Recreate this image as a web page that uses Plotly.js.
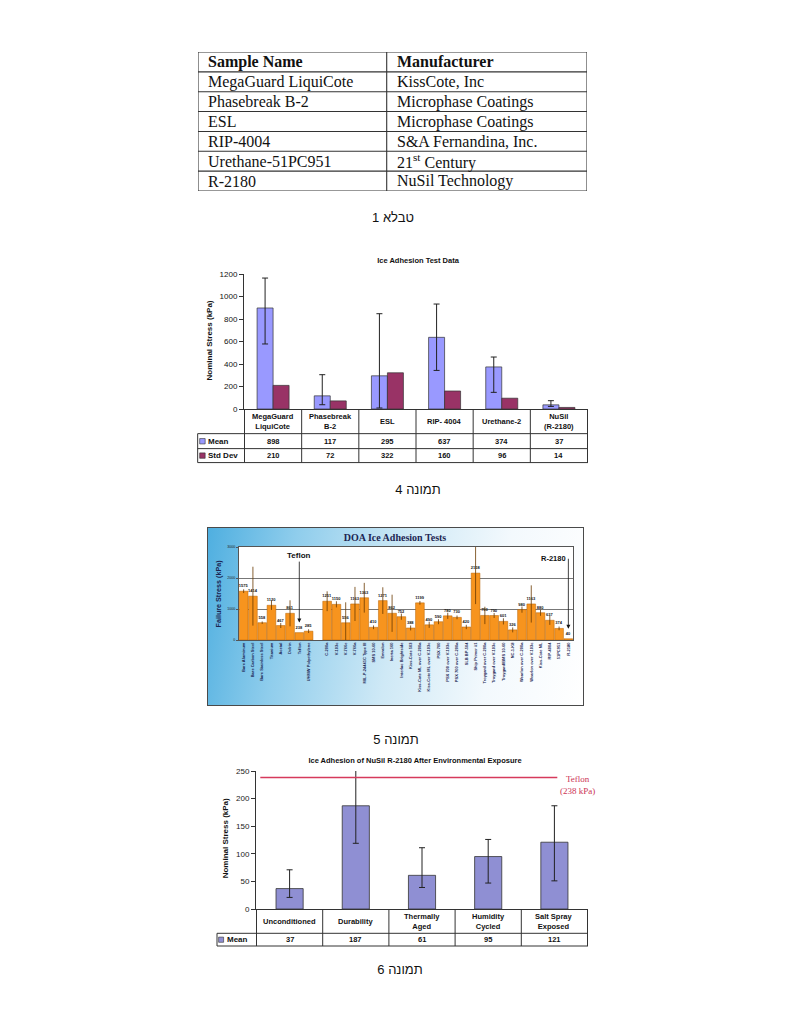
<!DOCTYPE html>
<html><head><meta charset="utf-8">
<script src="https://cdn.plot.ly/plotly-3.0.1.min.js"></script>
<style>
body{margin:0;background:#fff;width:796px;height:1023px;position:relative;overflow:hidden;font-family:"Liberation Sans",Arial,sans-serif}
.abs{position:absolute}
.cap{position:absolute;font-size:13px;line-height:16px;color:#111;transform:translateX(-50%);white-space:nowrap;font-family:"Liberation Sans","DejaVu Sans",Arial,sans-serif}
#doaBg{position:absolute;left:207px;top:527px;width:377px;height:179px;box-sizing:border-box;border:1.5px solid #4a4a4a;
background:linear-gradient(100deg,#4fafe0 0%,#8fcdec 22%,#cfe9f6 50%,#f3f9fd 75%,#ffffff 100%)}
</style></head><body>
<div id="t1" class="abs" style="left:190px;top:45px;width:410px;height:185px"></div>
<div id="c4" class="abs" style="left:190px;top:250px;width:410px;height:255px"></div>
<div class="cap" style="left:418px;top:482px">תמונה 4</div>
<div id="doaBg"></div>
<div id="c5" class="abs" style="left:208px;top:528px;width:375px;height:177px"></div>
<div class="cap" style="left:396px;top:732px">תמונה 5</div>
<div id="c6" class="abs" style="left:210px;top:745px;width:390px;height:240px"></div>
<div class="cap" style="left:400px;top:962px">תמונה 6</div>
<script>
// ---------- DATA ----------
// Table 1
const tableCaption = "טבלא 1";
const tableHeaders = ["Sample Name", "Manufacturer"];
const sampleNames = ["MegaGuard LiquiCote", "Phasebreak B-2", "ESL", "RIP-4004", "Urethane-51PC951", "R-2180"];
const manufacturers = ["KissCote, Inc", "Microphase Coatings", "Microphase Coatings", "S&amp;A Fernandina, Inc.", "21<sup>st</sup> Century", "NuSil Technology"];

// Figure 4
const cats4 = ["MegaGuard LiquiCote", "Phasebreak B-2", "ESL", "RIP-4004", "Urethane-2", "NuSil (R-2180)"];
const cats4Labels = ["MegaGuard<br>LiquiCote", "Phasebreak<br>B-2", "ESL", "RIP- 4004", "Urethane-2", "NuSil<br>(R-2180)"];
const mean4 = [898, 117, 295, 637, 374, 37];
const std4 = [210, 72, 322, 160, 96, 14];
const errPlus4 = [266, 188, 552, 296, 88, 37];
const errMinus4 = [320, 79, 286, 294, 226, 14];
const series4 = ["Mean", "Std Dev"];

// Figure 5
const cats5 = ["Bare Aluminum", "Bare Carbon Steel", "Bare Stainless Steel", "Titanium", "Acetal", "Delrin", "Teflon", "UHMW Polyethylene", "(gap)",
  "C-200a", "V-103c", "V-766e", "V-766a", "MIL-P-24441C Type III", "SMS 10-60", "Emralon", "Inerta 160", "Interlac Brightside",
  "Kiss-Cote 503", "Kiss-Cote ML over C-200a", "Kiss-Cote ML over V-103c", "PSX 700", "PSX 700 over V-103c", "PSX 700 over C-200a",
  "SLB BP-504", "Ship Primer #1", "Troygard over C-200a", "Troygard over V-103c", "Troygard/BMS 10-60", "NC-1-K8",
  "Wearlon over C-200a", "Wearlon over V-103c", "Kiss-Cote ML", "RIP-4004", "51PC951", "R-2180"];
const vals5 = [1575, 1414, 558, 1120, 467, 861, 238, 285, null,
  1251, 1150, 556, 1163, 1363, 410, 1271, 862, 752,
  388, 1199, 490, 590, 780, 730,
  420, 2158, 793, 790, 601, 326,
  980, 1163, 880, 637, 374, 40];
const err5 = [60, 950, 40, 150, 80, 420, 0, 60, null,
  320, 100, 660, 550, 480, 60, 430, 600, 100,
  80, 60, 100, 80, 100, 60,
  70, 1000, 280, 80, 100, 80,
  100, 600, 100, 150, 60, 0];
const refTeflon5 = "Teflon";
const refR2180 = "R-2180";

// Figure 6
const cats6 = ["Unconditioned", "Durability", "Thermally Aged", "Humidity Cycled", "Salt Spray Exposed"];
const cats6Labels = ["Unconditioned", "Durability", "Thermally<br>Aged", "Humidity<br>Cycled", "Salt Spray<br>Exposed"];
const mean6 = [37, 187, 61, 95, 121];
const errPlus6 = [34, 64, 50, 31, 66];
const errMinus6 = [16, 68, 22, 48, 70];
const teflonRef6 = 238;

// ---------- STYLE ----------
const SANS = '"Liberation Sans", Arial, sans-serif';
const SERIF = '"Liberation Serif", "Times New Roman", serif';
const cfg = {staticPlot: true, displayModeBar: false};
const MEAN_C = '#9999FF', STD_C = '#993366', LINE_C = '#333';
const HIDDEN_AXIS = {showline: false, showgrid: false, zeroline: false, showticklabels: false, ticks: ''};

// ---------- TABLE 1 (grid drawn on hidden axes: rows = index, columns = fraction) ----------
(function () {
  const rows = [tableHeaders.map(h => '<b>' + h + '</b>')].concat(sampleNames.map((s, i) => [s, manufacturers[i]]));
  const n = rows.length;
  const W = 389;
  const colX = [0, (386.7 - 198) / W, 1];
  const pad = 8 / W;
  const shapes = [], ann = [];
  for (let r = 0; r <= n; r++) shapes.push({type: 'line', xref: 'x', yref: 'y', x0: 0, x1: 1, y0: r, y1: r, line: {color: '#333', width: 1.1}});
  colX.forEach(c => shapes.push({type: 'line', xref: 'x', yref: 'y', x0: c, x1: c, y0: 0, y1: n, line: {color: '#333', width: 1.1}}));
  rows.forEach((row, r) => row.forEach((txt, c) => ann.push({xref: 'x', yref: 'y', x: colX[c] + pad, y: r + 0.5, text: txt,
    xanchor: 'left', yanchor: 'middle', showarrow: false, font: {family: SERIF, size: 16, color: '#111'}})));
  Plotly.newPlot('t1', [], {
    width: 410, height: 185, margin: {l: 8, r: 13, t: 7.3, b: 39}, showlegend: false,
    paper_bgcolor: 'rgba(0,0,0,0)', plot_bgcolor: 'rgba(0,0,0,0)',
    title: {text: tableCaption, x: (393 - 190) / 410, xanchor: 'center', y: 1 - 172 / 185, yanchor: 'middle',
      font: {family: '"Liberation Sans","DejaVu Sans",Arial,sans-serif', size: 13, color: '#111'}},
    xaxis: Object.assign({range: [0, 1]}, HIDDEN_AXIS), yaxis: Object.assign({range: [n, 0]}, HIDDEN_AXIS),
    shapes: shapes, annotations: ann
  }, cfg);
})();

// ---------- helper for data-table under chart ----------
function dataTable(cats, labels, rows, geom) {
  const shapes = [], ann = [];
  const n = cats.length;
  const bottom = geom.rowBottoms[geom.rowBottoms.length - 1];
  for (let i = 0; i <= n; i++) {
    shapes.push({type: 'line', xref: 'x', yref: 'paper', x0: i - 0.5, x1: i - 0.5, y0: 0, y1: bottom, line: {color: LINE_C, width: 1}});
  }
  shapes.push({type: 'line', xref: 'paper', yref: 'paper', x0: geom.leftX, x1: geom.leftX, y0: geom.rowBottoms[0], y1: bottom, line: {color: LINE_C, width: 1}});
  geom.rowBottoms.forEach(yb => shapes.push({type: 'line', xref: 'paper', yref: 'paper', x0: geom.leftX, x1: 1, y0: yb, y1: yb, line: {color: LINE_C, width: 1}}));
  labels.forEach((t, i) => ann.push({xref: 'x', yref: 'paper', x: cats[i], y: geom.catY, text: '<b>' + t + '</b>', showarrow: false,
    font: {family: SANS, size: geom.fontSize, color: '#111'}, xanchor: 'center', yanchor: 'middle'}));
  rows.forEach((r, k) => {
    r.values.forEach((v, i) => ann.push({xref: 'x', yref: 'paper', x: cats[i], y: geom.rowY[k], text: '<b>' + v + '</b>', showarrow: false,
      font: {family: SANS, size: geom.fontSize, color: '#111'}, xanchor: 'center', yanchor: 'middle'}));
    shapes.push({type: 'rect', xref: 'paper', yref: 'paper', x0: geom.keyX0, x1: geom.keyX1, y0: geom.rowY[k] - geom.keyH, y1: geom.rowY[k] + geom.keyH,
      fillcolor: r.color, line: {color: '#333', width: 0.6}});
    ann.push({xref: 'paper', yref: 'paper', x: geom.keyTextX, y: geom.rowY[k], text: '<b>' + r.name + '</b>', showarrow: false, xanchor: 'left',
      font: {family: SANS, size: geom.fontSize + 0.5, color: '#111'}, yanchor: 'middle'});
  });
  return {shapes, ann};
}

// ---------- FIGURE 4 ----------
(function () {
  const W = 343.7, H = 135.3;
  const px = X => (X - 244.3) / W, py = Y => (409.3 - Y) / H;
  const t = dataTable(cats4, cats4Labels, [
    {name: series4[0], values: mean4, color: MEAN_C},
    {name: series4[1], values: std4, color: STD_C}
  ], {rowBottoms: [py(434), py(449), py(463)], leftX: px(198), catY: py(421.6), rowY: [py(441.6), py(456)],
    keyX0: px(200), keyX1: px(205.5), keyH: 2.7 / H, keyTextX: px(206.5), fontSize: 7.5});
  t.ann.push({xref: 'paper', yref: 'paper', x: px(210), y: 0.505, xanchor: 'center', yanchor: 'middle', text: '<b>Nominal Stress (kPa)</b>',
    textangle: -90, showarrow: false, font: {family: SANS, size: 8, color: '#111'}});
  Plotly.newPlot('c4', [
    {type: 'bar', name: series4[0], x: cats4, y: mean4, marker: {color: MEAN_C, line: {color: '#333', width: 0.7}},
      error_y: {type: 'data', symmetric: false, array: errPlus4, arrayminus: errMinus4, color: '#222', thickness: 1, width: 3}},
    {type: 'bar', name: series4[1], x: cats4, y: std4, marker: {color: STD_C, line: {color: '#333', width: 0.7}}}
  ], {
    width: 410, height: 255, margin: {l: 54.3, r: 12, t: 24, b: 95.7}, showlegend: false,
    barmode: 'group', bargap: 0.44, bargroupgap: 0,
    paper_bgcolor: 'rgba(0,0,0,0)', plot_bgcolor: 'rgba(0,0,0,0)',
    title: {text: '<b>Ice Adhesion Test Data</b>', x: (418 - 190) / 410, xanchor: 'center', y: 1 - 10 / 255, yanchor: 'middle',
      font: {family: SANS, size: 7.5, color: '#111'}},
    xaxis: {showticklabels: false, showline: true, linecolor: LINE_C, linewidth: 1, ticks: '', showgrid: false, zeroline: false},
    yaxis: {range: [0, 1200], dtick: 200, showline: true, linecolor: LINE_C, linewidth: 1, ticks: 'outside', ticklen: 4, tickcolor: LINE_C,
      showgrid: false, zeroline: false, tickfont: {family: SANS, size: 8, color: '#111'}},
    shapes: t.shapes, annotations: t.ann
  }, cfg);
})();

// ---------- FIGURE 5 ----------
(function () {
  const W = 334;
  const NAVY = '#1b2552';
  const idx = cats5.map((c, i) => i).filter(i => vals5[i] !== null);
  const shown = idx.map(i => cats5[i]);
  Plotly.newPlot('c5', [{
    type: 'bar', x: shown, y: idx.map(i => vals5[i]), text: idx.map(i => '<b>' + vals5[i] + '</b>'), textposition: 'outside',
    textfont: {family: SANS, size: 4, color: '#111'}, constraintext: 'none', cliponaxis: false,
    marker: {color: '#F7941E', line: {color: '#B86200', width: 0.5}},
    error_y: {type: 'data', array: idx.map(i => err5[i]), color: '#6a3a00', thickness: 0.8, width: 0}
  }], {
    width: 375, height: 177, margin: {l: 31, r: 10, t: 18.7, b: 65}, showlegend: false, bargap: 0.06,
    paper_bgcolor: 'rgba(0,0,0,0)', plot_bgcolor: '#fff',
    title: {text: '<b>DOA Ice Adhesion Tests</b>', x: (395 - 208) / 375, xanchor: 'center', y: 1 - 9 / 177, yanchor: 'middle',
      font: {family: SERIF, size: 10, color: NAVY}},
    xaxis: {type: 'category', categoryorder: 'array', categoryarray: cats5, range: [-0.5, cats5.length - 0.5],
      tickmode: 'array', tickvals: shown, ticktext: shown.map(c => '<b>' + c + '</b>'),
      tickangle: -90, automargin: false, ticks: '', showline: true, mirror: true,
      linecolor: '#555', linewidth: 1, tickfont: {family: SANS, size: 4, color: NAVY}, showgrid: false},
    yaxis: {range: [0, 3000], dtick: 1000, showgrid: true, gridcolor: '#555', gridwidth: 0.8, zeroline: false, showline: true, mirror: true,
      linecolor: '#555', linewidth: 1, ticks: 'outside', ticklen: 2, tickcolor: '#555', automargin: false,
      tickfont: {family: SANS, size: 3.6, color: '#222'}},
    annotations: [
      {xref: 'paper', yref: 'paper', x: (218 - 239) / W, y: 0.5, xanchor: 'center', yanchor: 'middle', text: '<b>Failure Stress (kPa)</b>',
        textangle: -90, showarrow: false, font: {family: SANS, size: 7.2, color: NAVY}},
      {x: refTeflon5, y: vals5[cats5.indexOf(refTeflon5)], text: '<b>Teflon</b>', ax: 0, ay: -77, standoff: 10,
        arrowhead: 2, arrowsize: 1, arrowwidth: 0.8, arrowcolor: '#111', font: {family: SANS, size: 8, color: '#111'}},
      {x: refR2180, y: vals5[cats5.indexOf(refR2180)], text: '<b>R-2180</b>', ax: 0, ay: -80, standoff: 10, xanchor: 'right', xshift: 0,
        arrowhead: 2, arrowsize: 1, arrowwidth: 0.8, arrowcolor: '#111', font: {family: SANS, size: 7.5, color: '#111'}}
    ]
  }, cfg);
})();

// ---------- FIGURE 6 ----------
(function () {
  const W = 332, H = 138;
  const px = X => (X - 255.7) / W, py = Y => (909 - Y) / H;
  const t = dataTable(cats6, cats6Labels, [{name: 'Mean', values: mean6, color: '#8F8FD3'}],
    {rowBottoms: [py(933.3), py(946)], leftX: px(216.7), catY: py(921), rowY: [py(939.7)],
      keyX0: px(218.3), keyX1: px(223.3), keyH: 2.6 / H, keyTextX: px(224.5), fontSize: 7.5});
  t.shapes.push({type: 'line', xref: 'paper', yref: 'y', x0: px(260), x1: px(557), y0: teflonRef6, y1: teflonRef6,
    line: {color: '#d63a5c', width: 1.5}});
  t.ann.push({xref: 'paper', yref: 'y', x: px(577), y: teflonRef6, xanchor: 'center', yanchor: 'top', yshift: 6, showarrow: false,
    text: 'Teflon<br>(' + teflonRef6 + ' kPa)', font: {family: SERIF, size: 9, color: '#cc3355'}});
  t.ann.push({xref: 'paper', yref: 'paper', x: px(225), y: py(838), xanchor: 'center', yanchor: 'middle', text: '<b>Nominal Stress (kPa)</b>',
    textangle: -90, showarrow: false, font: {family: SANS, size: 8, color: '#111'}});
  Plotly.newPlot('c6', [{
    type: 'bar', x: cats6, y: mean6, marker: {color: '#8F8FD3', line: {color: '#333', width: 0.8}},
    error_y: {type: 'data', symmetric: false, array: errPlus6, arrayminus: errMinus6, color: '#222', thickness: 1, width: 3}
  }], {
    width: 390, height: 240, margin: {l: 45.7, r: 12.3, t: 26, b: 76}, showlegend: false, bargap: 0.59,
    paper_bgcolor: 'rgba(0,0,0,0)', plot_bgcolor: 'rgba(0,0,0,0)',
    title: {text: '<b>Ice Adhesion of NuSil R-2180 After Environmental Exposure</b>', x: (415 - 210) / 390, xanchor: 'center',
      y: 1 - 15 / 240, yanchor: 'middle', font: {family: SANS, size: 7.5, color: '#111'}},
    xaxis: {showticklabels: false, showline: true, linecolor: LINE_C, linewidth: 1, ticks: '', showgrid: false, zeroline: false},
    yaxis: {range: [0, 250], dtick: 50, showline: true, linecolor: LINE_C, linewidth: 1, ticks: 'outside', ticklen: 4, tickcolor: LINE_C,
      showgrid: false, zeroline: false, tickfont: {family: SANS, size: 8, color: '#222'}},
    shapes: t.shapes, annotations: t.ann
  }, cfg);
})();
</script>
</body></html>
